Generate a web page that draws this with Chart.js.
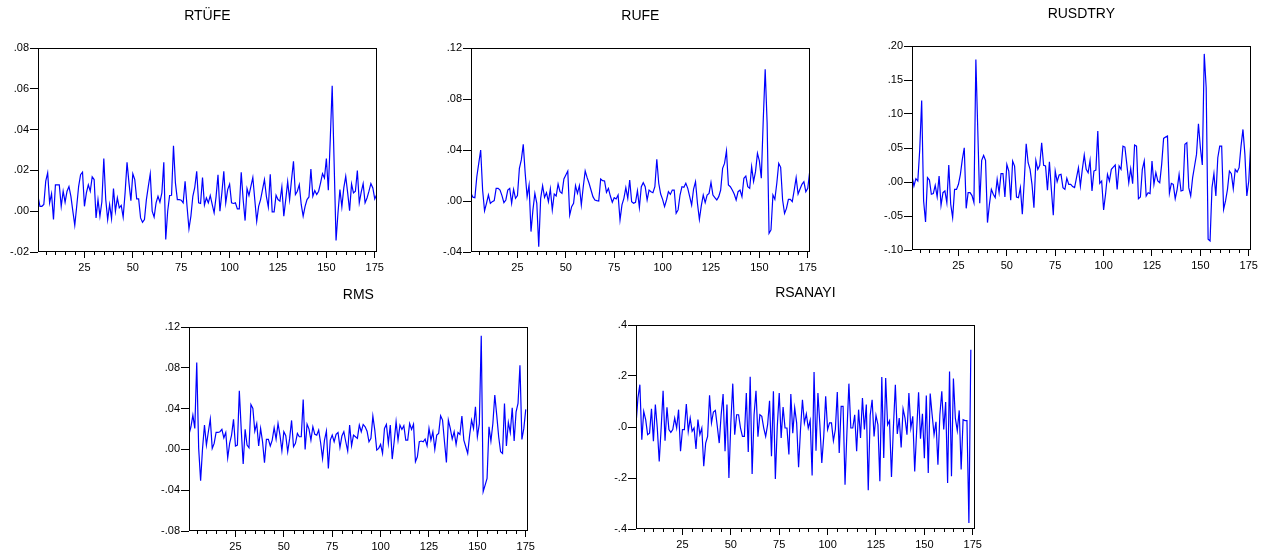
<!DOCTYPE html>
<html><head><meta charset="utf-8">
<script src="https://cdn.jsdelivr.net/npm/chart.js@4/dist/chart.umd.min.js"></script>
<style>
html,body{margin:0;padding:0;background:#fff;}
#wrap{position:relative;width:1271px;height:554px;overflow:hidden;background:#fff;}
canvas{position:absolute;}
</style></head><body><div id="wrap"></div>
<script>
// ---- Data ----
const titles = ['RTÜFE','RUFE','RUSDTRY','RMS','RSANAYI'];
const xTickLabels = [25,50,75,100,125,150,175];
const xMax = 176;

const rtufe = [.0073,.0024,.0024,.0033,.0147,.0188,.0041,.0086,-.0041,.0129,
.0129,.0129,.0024,.0098,.0044,.0098,.0121,.0073,0,-.0069,
.0024,.0122,.0179,.0191,.0024,.009,.0129,.0098,.0168,.0155,
-.0033,.0057,-.0024,.0046,.0258,.0057,-.0041,.0033,-.0036,.0111,
0,.0065,.0016,.0028,-.0029,.009,.024,.0139,.0052,.0183,
.0155,.006,.006,-.0033,-.0054,-.0041,.0057,.0122,.0183,0,
-.0029,.0041,.0073,.0044,.009,.024,-.0139,0,.0077,.0078,
.0321,.0139,.0057,.0057,.0054,.0041,.0147,.0024,-.0086,-.0024,
.0073,.0117,.0196,.0041,.0038,.0165,.0031,.0065,
.0041,.0077,.0033,-.0008,.007,.0179,0,.009,.0196,.0041,
.0106,.0132,.0041,.0038,.0041,.0011,.0011,.0191,.0057,-.0046,
.0111,.0077,.0122,.0165,.0057,-.0049,.0024,.0057,.0106,.0155,
.0073,.0021,.0181,-.0003,-.0003,.0078,.0057,.0049,.0119,-.0024,
.0057,.0145,.0057,.0155,.0245,.0082,.0098,.013,.0033,-.0024,
.0024,.0057,.007,.0207,.0073,.0101,.0082,.0098,.0139,.0184,
.0163,.0258,.0103,.035,.0615,.0237,-.0144,-.0008,.0106,.0021,
.0114,.0171,.009,.0003,.0134,.009,.0098,.0199,.0041,.0093,
.0135,.0041,.0065,.0098,.0135,.0114,.006,.0082];

const rufe = [.006,.003,.0026,.019,.0295,.04,.0086,-.0076,-.0018,.0047,
-.0018,-.0005,.0003,.0099,.0099,.0086,.0042,-.0013,.0008,.0086,
.0099,-.0018,.0091,.0021,.0042,.0256,.0322,.0444,.0217,.0034,
.0125,-.024,-.007,.006,-.0018,-.0358,.0021,.012,.0029,.0065,
-.0005,.0094,-.007,.0055,.0039,.0133,.0073,.006,.0173,.0204,
.0235,-.011,-.0044,-.0018,.012,.006,.012,-.0031,.0112,.0235,
.0183,.0139,.0086,.0034,.0008,.0003,0,.0173,.016,.0157,
.0068,.0099,.0039,-.001,.0026,.0016,.0047,-.0149,-.0031,.0021,
.0105,.0021,.0165,-.0005,-.0018,-.001,.0081,
-.005,.0112,.0144,.0112,.0008,.0086,.0073,.0065,.0112,.0327,
.0139,.0055,.0013,-.0044,.0008,.0073,.0052,.0086,.0086,-.0097,
-.007,.0047,.0112,.0107,.0139,.0099,.0034,-.0031,.0094,.0152,
-.0018,-.0144,-.0037,.0047,-.0013,.0047,.006,.0146,.0047,.0026,
.0008,.0034,.0086,.0256,.0295,.0392,.0125,.0112,.0086,.0055,
.0008,.0073,.0086,.0034,.0178,.0196,.0112,.0099,.0269,.0152,
.023,.0374,.0314,.0178,.0635,.1033,.0609,-.0254,-.0227,.0047,
.0013,.0139,.0295,.0264,.0008,-.0097,-.0058,.0013,.0013,-.0005,
.0086,.0183,.0055,.0094,.0131,.0152,.0073,.0099,.023];

const rusdtry = [.0088,-.0059,.0049,.0015,.048,.12,-.028,-.0587,.0064,.0029,
-.018,-.017,-.0049,-.0215,.0088,-.0342,-.0157,-.0132,-.0303,.025,
-.0328,-.0523,-.0108,-.0108,-.0034,.0113,.0333,.0504,-.0387,-.0157,
-.0157,-.02,-.0303,.18,.075,-.0313,.0318,.0391,.0318,-.0597,
-.0328,-.0108,-.018,-.023,.0039,-.0157,.0122,.0122,-.022,.0259,
.0161,-.0269,.0308,.0235,-.022,-.023,-.0083,-.0475,.0015,.0563,
.0284,.0186,-.0034,-.0377,.0318,.0186,.0245,.0577,.0245,.0235,
-.0122,.0298,-.0108,-.0489,.0161,.0005,.0103,.0113,-.0083,-.0108,
.0054,-.0034,-.0034,-.0068,-.0083,.0064,.021,
-.0059,.0186,.0396,.0186,.0137,.0318,-.0132,.0161,.0176,.0749,
-.002,.0015,-.0411,-.0181,.0113,.0015,.0186,.022,.025,-.0108,
.0235,.0186,.0528,.0514,.0259,-.001,.0196,-.0024,.0543,.0528,
-.0245,-.022,.0186,.0308,-.0205,-.0157,-.0171,.0308,-.0034,.0137,
.0015,-.001,.0259,.0641,.066,.0675,-.0166,-.002,-.0034,-.0245,
-.0108,.0113,-.0132,-.0122,.0553,.0577,-.0083,-.0205,.0064,.0235,
.0406,.0856,.0504,.025,.1884,.1385,-.0841,-.0866,-.0083,.0122,
-.0205,.0357,.0528,.0528,-.0401,-.0279,-.0108,.0161,.0122,-.0098,
.0186,.0147,.021,.0528,.0773,.0406,-.0205,.0015,.0553];

const rms = [.0147,.0222,.0336,.0206,.0852,.001,-.0307,.001,.0238,.0042,
.0173,.0297,.001,.0059,.0166,.0166,.0173,.0196,.0114,.0166,
-.0082,.0059,.014,.0294,.0033,.0042,.0574,.0189,-.0144,.0196,
.0042,.0016,.044,.0401,.0179,.0254,.0033,.0206,.0075,-.013,
.0098,.0098,.0033,.0091,.0212,.0101,.0254,.014,-.0013,.0173,
.0134,-.0023,.0108,.0284,.0026,.0059,.0157,.0124,.0124,.0489,
0,.0248,.0199,.0091,.0222,.0147,.014,.0189,.0065,-.0088,
.0091,.0179,-.0186,.0091,.014,.0075,.0147,.0166,.002,.0131,
.0173,.0075,-.0016,.0238,.0036,.014,.0124,.0108,.0238,
.0173,.0245,.0222,.0179,.0075,.0108,.0326,.0189,-.0007,.001,
.0049,-.0039,.0206,.0245,.0059,.0238,-.0095,.0075,.0271,.0091,
.0238,.0196,.0232,.0091,.0091,.0254,.0196,.0248,-.0121,-.0072,
.0075,.0082,.0075,.0101,.0036,.0206,.0091,.0173,0,.014,
.0157,.033,.0287,.0075,-.0127,.0287,.0206,.0101,.0173,.0049,
.0166,.0147,.0326,.0091,.0026,-.0039,.014,.0287,.0206,.0418,
.0124,.025,.1113,-.0414,-.035,-.0284,.0222,.0082,.0254,.0532,
.0336,.0124,-.0023,-.0039,.045,.0033,.0264,.0166,.0408,.0082,
.0369,.045,.0825,.0098,.0206,.0392];

const rsanayi = [.01,.114,.166,-.05,.061,.029,-.03,-.024,.071,-.056,
.088,-.004,-.135,-.004,.142,-.054,.077,-.01,-.021,-.01,
.035,-.004,.068,-.095,-.01,-.01,.09,-.017,.035,-.017,
-.004,-.086,.029,-.03,-.004,-.154,-.063,-.037,.124,.016,
.059,.065,.003,-.063,.048,.129,-.095,.088,-.2,.016,
.17,-.03,.048,.048,-.004,-.037,-.037,.133,-.098,.197,
-.184,.048,.142,-.038,.048,.042,-.004,-.037,.009,.103,
-.115,.14,-.204,.003,.133,-.043,.078,-.004,-.004,-.108,
.129,-.024,.075,.016,-.158,-.01,.107,.016,.051,-.004,
.026,-.19,.216,-.093,.133,.009,-.141,-.037,.12,-.01,
.016,.016,-.054,-.01,.137,-.102,.081,.081,-.226,-.017,
.17,-.004,-.004,.048,-.095,.068,-.043,.114,-.01,.088,
-.248,.046,.107,-.037,.046,.009,-.213,.196,-.122,.192,
.009,.025,-.196,0,.166,-.027,.035,-.08,.071,.035,
-.03,.133,-.004,.042,-.174,-.017,.136,-.046,.052,-.122,
.123,-.18,.131,.048,-.03,.02,-.148,.048,.14,-.01,
.098,-.22,.218,-.193,.19,.035,-.014,.065,-.167,.029,
.025,.025,-.376,.303];

const yMins  = [-0.02, -0.04, -0.10, -0.08, -0.4];
const yMaxs  = [ 0.08,  0.12,  0.20,  0.12,  0.4];
const ySteps = [ 0.02,  0.04,  0.05,  0.04,  0.2];
const yDecimals = [2,2,2,2,1];
const seriesList = [rtufe, rufe, rusdtry, rms, rsanayi];

// ---- Layout (plot-area rectangles on the page) ----
const plotBoxes = [
  {l:38, t:48,  r:379,  b:252},
  {l:471,t:48,  r:812,  b:252},
  {l:912,t:46,  r:1253, b:250},
  {l:189,t:327, r:530,  b:531},
  {l:636,t:325, r:977,  b:529}
];
const AXW = 45, AXH = 30, TOPH = 50, PADR = 8, TITLE_GAP = 32;

Chart.defaults.font.family = "'Liberation Sans', Arial, sans-serif";
Chart.defaults.color = '#000';

function fmt(v, dec){
  let s = Math.abs(v) < 1e-9 ? (0).toFixed(dec) : v.toFixed(dec);
  return s.replace(/^(-?)0\./, '$1.');
}

const framePlugin = {
  id:'frame',
  afterDraw(chart){
    const a = chart.chartArea, ctx = chart.ctx;
    ctx.save();
    ctx.strokeStyle = '#000'; ctx.lineWidth = 1;
    ctx.strokeRect(Math.round(a.left)+0.5, Math.round(a.top)+0.5,
                   Math.round(a.right-a.left)-1, Math.round(a.bottom-a.top)-1);
    // minor ticks on x axis every 5 observations
    const s = chart.scales.x;
    ctx.beginPath();
    for (let v = 5; v <= s.max; v += 5){
      if (v % 25 === 0) continue;
      const x = Math.round(s.getPixelForValue(v)) + 0.5;
      ctx.moveTo(x, Math.round(a.bottom)); ctx.lineTo(x, Math.round(a.bottom) + 3);
    }
    ctx.stroke();
    ctx.restore();
  }
};

const wrap = document.getElementById('wrap');
seriesList.forEach((series, k) => {
  const box = plotBoxes[k];
  const cv = document.createElement('canvas');
  const cw = box.r - box.l + AXW + PADR;
  const ch = box.b - box.t + TOPH + AXH;
  cv.width = cw; cv.height = ch;
  cv.style.left = (box.l - AXW) + 'px';
  cv.style.top = (box.t - TOPH) + 'px';
  cv.style.width = cw + 'px'; cv.style.height = ch + 'px';
  wrap.appendChild(cv);

  const fontSize = 14, lh = fontSize * 1.2;
  const padTop = TOPH - TITLE_GAP - lh/2;
  const padBottom = TOPH - padTop - lh;

  new Chart(cv.getContext('2d'), {
    type:'line',
    data:{ datasets:[{
      data: series.map((v,i)=>({x:i+1, y:v})),
      borderColor:'#0000ff', borderWidth:1.2, pointRadius:0, tension:0, fill:false
    }]},
    options:{
      responsive:false, animation:false, devicePixelRatio:1,
      layout:{ padding:{left:0, right:PADR, top:0, bottom:0} },
      plugins:{
        legend:{display:false}, tooltip:{enabled:false},
        title:{ display:true, text:titles[k], fullSize:false, color:'#000',
                font:{size:fontSize, weight:'normal'},
                padding:{top:padTop, bottom:padBottom} }
      },
      scales:{
        x:{ type:'linear', min:1, max:xMax,
            afterFit(s){ s.height = AXH; },
            afterBuildTicks(s){ s.ticks = xTickLabels.filter(v=>v<=s.max).map(v=>({value:v})); },
            ticks:{ autoSkip:false, maxRotation:0, padding:3, font:{size:11}, color:'#000',
                    callback:(v)=>String(v) },
            grid:{ display:true, drawOnChartArea:false, drawTicks:true, tickLength:6, color:'#000' },
            border:{ display:false } },
        y:{ type:'linear', min:yMins[k], max:yMaxs[k],
            afterFit(s){ s.width = AXW; },
            ticks:{ stepSize:ySteps[k], padding:1, font:{size:11}, color:'#000',
                    callback:(v)=>fmt(v, yDecimals[k]) },
            grid:{ display:true, drawOnChartArea:false, drawTicks:true, tickLength:8, color:'#000' },
            border:{ display:false } }
      }
    },
    plugins:[framePlugin]
  });
});
</script></body></html>
